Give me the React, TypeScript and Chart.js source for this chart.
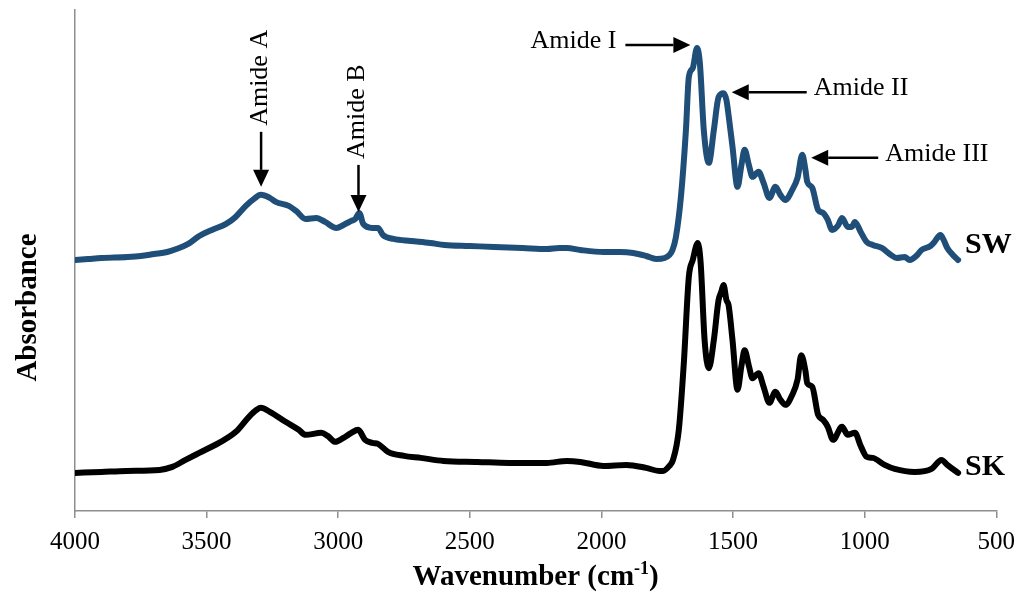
import React, { useEffect, useRef } from "react";
import { Chart, registerables } from "chart.js";

Chart.register(...registerables);

const SERIF = "'Liberation Serif', 'Times New Roman', serif";
const SW_COLOR = "#1F4E79";
const SK_COLOR = "#000000";
const AXIS_COLOR = "#8E8E8E";

// FTIR spectra: [wavenumber (cm-1), absorbance (offset, arbitrary units)]
const swSpectrum: [number, number][] = [
  [4000, 0.501], [3950, 0.503], [3900, 0.505], [3800, 0.507], [3750, 0.509],
  [3700, 0.513], [3650, 0.517], [3615, 0.523], [3570, 0.533], [3528, 0.549],
  [3480, 0.561], [3426, 0.573], [3390, 0.587], [3351, 0.609], [3320, 0.623],
  [3294, 0.631], [3260, 0.625], [3237, 0.617], [3188, 0.609], [3160, 0.599],
  [3124, 0.583], [3083, 0.585], [3050, 0.577], [3007, 0.565], [2980, 0.571],
  [2950, 0.579], [2935, 0.583], [2920, 0.595], [2905, 0.573], [2870, 0.565],
  [2849, 0.565], [2830, 0.551], [2790, 0.543], [2724, 0.539], [2650, 0.535],
  [2596, 0.531], [2500, 0.529], [2407, 0.527], [2300, 0.525], [2207, 0.523],
  [2160, 0.525], [2131, 0.525], [2080, 0.521], [1992, 0.517], [1930, 0.517],
  [1879, 0.515], [1830, 0.509], [1792, 0.503], [1760, 0.505], [1742, 0.511],
  [1730, 0.521], [1717, 0.547], [1698, 0.627], [1679, 0.760], [1668, 0.866],
  [1653, 0.884], [1637, 0.924], [1626, 0.894], [1611, 0.760], [1592, 0.695],
  [1573, 0.760], [1555, 0.826], [1536, 0.834], [1525, 0.820], [1517, 0.790],
  [1502, 0.727], [1483, 0.647], [1468, 0.691], [1456, 0.721], [1440, 0.691],
  [1426, 0.667], [1403, 0.677], [1384, 0.655], [1362, 0.625], [1339, 0.647],
  [1320, 0.631], [1301, 0.621], [1275, 0.641], [1255, 0.665], [1237, 0.711],
  [1225, 0.681], [1218, 0.657], [1199, 0.645], [1177, 0.601], [1158, 0.595],
  [1140, 0.581], [1124, 0.561], [1100, 0.571], [1086, 0.585], [1064, 0.567],
  [1049, 0.567], [1037, 0.577], [1015, 0.557], [992, 0.537], [969, 0.531],
  [935, 0.525], [900, 0.511], [878, 0.505], [848, 0.507], [829, 0.501],
  [800, 0.511], [784, 0.521], [750, 0.529], [735, 0.537], [712, 0.551],
  [700, 0.541], [686, 0.525], [668, 0.513], [645, 0.501],
];

const skSpectrum: [number, number][] = [
  [4000, 0.076], [3900, 0.078], [3804, 0.080], [3679, 0.082], [3630, 0.088],
  [3580, 0.102], [3528, 0.116], [3453, 0.136], [3389, 0.158], [3339, 0.188],
  [3310, 0.202], [3294, 0.206], [3260, 0.198], [3200, 0.178], [3150, 0.162],
  [3124, 0.152], [3064, 0.156], [3040, 0.150], [3011, 0.138], [2980, 0.146],
  [2950, 0.156], [2924, 0.162], [2898, 0.142], [2870, 0.136], [2849, 0.134],
  [2811, 0.118], [2750, 0.110], [2686, 0.106], [2600, 0.100], [2471, 0.098],
  [2350, 0.096], [2207, 0.096], [2131, 0.100], [2080, 0.098], [1992, 0.090],
  [1905, 0.092], [1830, 0.086], [1781, 0.080], [1766, 0.080], [1742, 0.090],
  [1728, 0.102], [1706, 0.162], [1687, 0.295], [1668, 0.467], [1653, 0.501],
  [1634, 0.535], [1623, 0.495], [1608, 0.341], [1592, 0.285], [1573, 0.341],
  [1555, 0.421], [1545, 0.437], [1536, 0.451], [1525, 0.421], [1517, 0.411],
  [1502, 0.341], [1483, 0.242], [1468, 0.290], [1456, 0.321], [1440, 0.290],
  [1426, 0.265], [1403, 0.275], [1384, 0.248], [1362, 0.216], [1339, 0.238],
  [1320, 0.222], [1301, 0.212], [1275, 0.232], [1255, 0.262], [1241, 0.311],
  [1225, 0.280], [1218, 0.255], [1199, 0.248], [1177, 0.192], [1158, 0.182],
  [1140, 0.168], [1120, 0.142], [1086, 0.168], [1064, 0.152], [1037, 0.156],
  [1015, 0.130], [992, 0.108], [969, 0.106], [924, 0.092], [886, 0.084],
  [810, 0.078], [746, 0.084], [708, 0.102], [686, 0.092], [645, 0.076],
];

const seriesNames = ["SW", "SK"];
const xTickValues = [4000, 3500, 3000, 2500, 2000, 1500, 1000, 500];

// Band assignments: arrow tip in data units and arrow direction
const noteLabels = ["Amide A", "Amide B", "Amide I", "Amide II", "Amide III"];
const noteWavenumbers = [3293, 2923, 1662, 1505, 1203];
const noteAbsorbance = [0.647, 0.597, 0.93, 0.836, 0.705];
const noteDirections = ["down", "down", "right", "left", "left"];
const noteArrowLengths = [55, 47, 65, 75, 67];

function drawArrow(ctx: CanvasRenderingContext2D, x1: number, y1: number, x2: number, y2: number) {
  const head = 17;
  const half = 8;
  const ang = Math.atan2(y2 - y1, x2 - x1);
  const bx = x2 - head * Math.cos(ang);
  const by = y2 - head * Math.sin(ang);
  ctx.beginPath();
  ctx.moveTo(x1, y1);
  ctx.lineTo(bx, by);
  ctx.lineWidth = 2.5;
  ctx.stroke();
  ctx.beginPath();
  ctx.moveTo(x2, y2);
  ctx.lineTo(bx + half * Math.sin(ang), by - half * Math.cos(ang));
  ctx.lineTo(bx - half * Math.sin(ang), by + half * Math.cos(ang));
  ctx.closePath();
  ctx.fill();
}

const notesPlugin = {
  id: "spectrumNotes",
  afterDatasetsDraw(chart: any) {
    const { ctx, scales } = chart;
    const xs = scales.x;
    const ys = scales.y;
    ctx.save();
    ctx.fillStyle = "#000";
    ctx.strokeStyle = "#000";
    ctx.font = `26px ${SERIF}`;
    noteLabels.forEach((label, i) => {
      const tx = xs.getPixelForValue(noteWavenumbers[i]);
      const ty = ys.getPixelForValue(noteAbsorbance[i]);
      const len = noteArrowLengths[i];
      const dir = noteDirections[i];
      if (dir === "down") {
        drawArrow(ctx, tx, ty - len, tx, ty);
        ctx.save();
        ctx.translate(tx + 6, ty - len - 6);
        ctx.rotate(-Math.PI / 2);
        ctx.textAlign = "left";
        ctx.textBaseline = "alphabetic";
        ctx.fillText(label, 0, 0);
        ctx.restore();
      } else if (dir === "right") {
        drawArrow(ctx, tx - len, ty, tx, ty);
        ctx.textAlign = "right";
        ctx.textBaseline = "alphabetic";
        ctx.fillText(label, tx - len - 9, ty + 3);
      } else {
        drawArrow(ctx, tx + len, ty, tx, ty);
        ctx.textAlign = "left";
        ctx.textBaseline = "alphabetic";
        ctx.fillText(label, tx + len + 7, ty + 3);
      }
    });

    // series names at the end of each trace
    ctx.font = `bold 30px ${SERIF}`;
    ctx.textAlign = "left";
    ctx.textBaseline = "alphabetic";
    const ends = [swSpectrum[swSpectrum.length - 1], skSpectrum[skSpectrum.length - 1]];
    const dy = [-7, 2];
    seriesNames.forEach((name, i) => {
      const [wn, a] = ends[i];
      ctx.fillText(name, xs.getPixelForValue(wn) + 7, ys.getPixelForValue(a) + dy[i]);
    });
    ctx.restore();
  },
  afterDraw(chart: any) {
    const { ctx, chartArea } = chart;
    ctx.save();
    ctx.fillStyle = "#000";
    ctx.textBaseline = "alphabetic";

    // x-axis title with superscript
    const big = `bold 29px ${SERIF}`;
    const small = `bold 18px ${SERIF}`;
    const main = "Wavenumber (cm";
    const sup = "-1";
    const close = ")";
    ctx.font = big;
    const wMain = ctx.measureText(main).width;
    const wClose = ctx.measureText(close).width;
    ctx.font = small;
    const wSup = ctx.measureText(sup).width;
    const total = wMain + wSup + wClose;
    const cx = (chartArea.left + chartArea.right) / 2;
    let x = cx - total / 2;
    const base = 585;
    ctx.textAlign = "left";
    ctx.font = big;
    ctx.fillText(main, x, base);
    x += wMain;
    ctx.font = small;
    ctx.fillText(sup, x, base - 11);
    x += wSup;
    ctx.font = big;
    ctx.fillText(close, x, base);

    // y-axis title
    ctx.save();
    ctx.translate(36, (chartArea.top + chartArea.bottom) / 2 + 47);
    ctx.rotate(-Math.PI / 2);
    ctx.textAlign = "center";
    ctx.font = big;
    ctx.fillText("Absorbance", 0, 0);
    ctx.restore();
    ctx.restore();
  },
};

export default function App() {
  const ref = useRef<HTMLCanvasElement>(null);

  useEffect(() => {
    const canvas = ref.current;
    if (!canvas) return;
    const chart = new Chart(canvas, {
      type: "line",
      data: {
        datasets: [
          {
            label: seriesNames[0],
            data: swSpectrum.map(([x, y]) => ({ x, y })),
            borderColor: SW_COLOR,
            borderWidth: 6,
            pointRadius: 0,
            cubicInterpolationMode: "monotone",
            fill: false,
            borderJoinStyle: "round",
            borderCapStyle: "round",
          },
          {
            label: seriesNames[1],
            data: skSpectrum.map(([x, y]) => ({ x, y })),
            borderColor: SK_COLOR,
            borderWidth: 6,
            pointRadius: 0,
            cubicInterpolationMode: "monotone",
            fill: false,
            borderJoinStyle: "round",
            borderCapStyle: "round",
          },
        ],
      },
      options: {
        responsive: false,
        maintainAspectRatio: false,
        animation: false,
        layout: { padding: { top: 10, right: 22, left: 0, bottom: 0 } },
        plugins: { legend: { display: false }, tooltip: { enabled: false } },
        scales: {
          x: {
            type: "linear",
            reverse: true,
            min: 500,
            max: 4000,
            afterBuildTicks: (s: any) => {
              s.ticks = xTickValues.map((value) => ({ value }));
            },
            afterFit: (s: any) => {
              s.height = 81;
            },
            ticks: {
              callback: (v: any) => String(v),
              font: { size: 25, family: SERIF },
              color: "#000",
              padding: 9,
              maxRotation: 0,
              autoSkip: false,
            },
            grid: {
              display: true,
              drawOnChartArea: false,
              drawTicks: true,
              tickLength: 7,
              color: AXIS_COLOR,
              lineWidth: 1.5,
            },
            border: { display: true, color: AXIS_COLOR, width: 1.5 },
          },
          y: {
            min: 0,
            max: 1,
            ticks: { display: false },
            grid: { display: false },
            border: { display: true, color: AXIS_COLOR, width: 1.5 },
            afterFit: (s: any) => {
              s.width = 75;
            },
          },
        },
      },
      plugins: [notesPlugin],
    } as any);
    return () => chart.destroy();
  }, []);

  return (
    <div style={{ position: "fixed", left: 0, top: 0, width: 1024, height: 592, background: "#fff" }}>
      <canvas ref={ref} width={1024} height={592} style={{ display: "block", width: 1024, height: 592 }} />
    </div>
  );
}
